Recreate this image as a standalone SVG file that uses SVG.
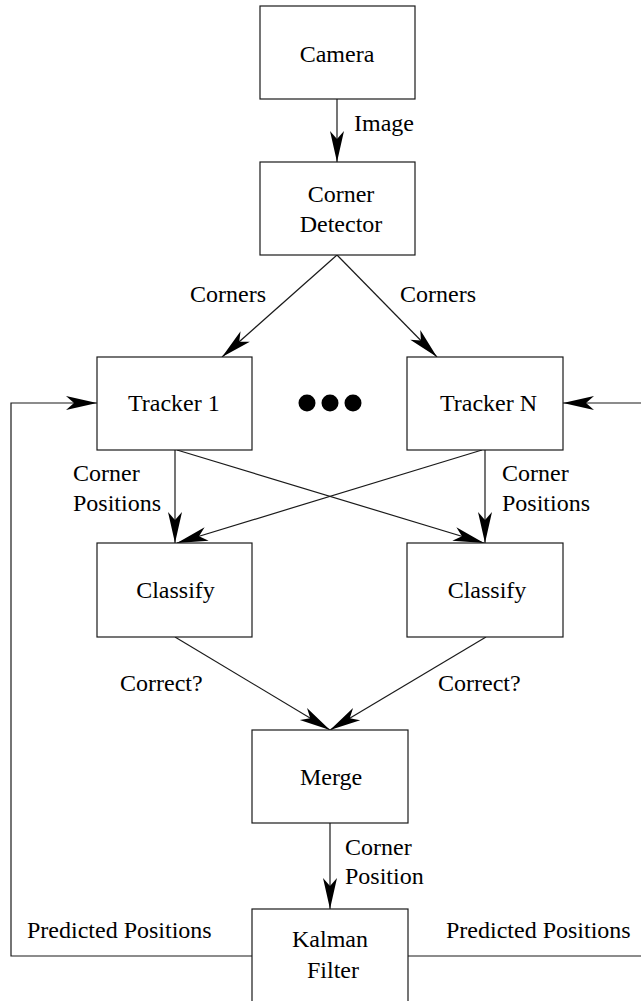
<svg xmlns="http://www.w3.org/2000/svg" width="641" height="1001" viewBox="0 0 641 1001">
<style>
.box{fill:#fff;stroke:#1a1a1a;stroke-width:1.2}
.t{font-family:'Liberation Serif','Times New Roman',Times,serif;font-size:24px;fill:#000}
.c{text-anchor:middle}
.ln{fill:none;stroke:#1a1a1a;stroke-width:1.2}
.ar{marker-end:url(#ah)}
</style>
<defs>
<marker id="ah" markerUnits="userSpaceOnUse" markerWidth="34" markerHeight="18" viewBox="-32 -9 34 18" refX="0" refY="0" orient="auto">
<path d="M0,0 L-31,-7 L-23,0 L-31,7 Z" fill="#000"/>
</marker>
</defs>
<rect width="641" height="1001" fill="#fff"/>
<g id="connectors">
<line class="ln ar" x1="337" y1="99" x2="337" y2="162"/>
<line class="ln ar" x1="337" y1="255" x2="222" y2="357"/>
<line class="ln ar" x1="337" y1="255" x2="437" y2="357"/>
<line class="ln ar" x1="175" y1="450" x2="175" y2="543"/>
<line class="ln ar" x1="485" y1="450" x2="485" y2="543"/>
<line class="ln ar" x1="177" y1="450" x2="484" y2="543"/>
<line class="ln ar" x1="482" y1="450" x2="177" y2="543"/>
<line class="ln ar" x1="175" y1="637" x2="330" y2="730"/>
<line class="ln ar" x1="486" y1="637" x2="330" y2="730"/>
<line class="ln ar" x1="330" y1="823" x2="330" y2="909"/>
<polyline class="ln ar" points="252,956 11,956 11,403 97,403"/>
<line class="ln" x1="408" y1="956" x2="641" y2="956"/>
<line class="ln ar" x1="641" y1="403" x2="563" y2="403"/>
</g>
<g id="labels" font-family="Liberation Serif, serif">
<text class="t" x="354" y="131">Image</text>
<text class="t" x="190" y="302">Corners</text>
<text class="t" x="400" y="302">Corners</text>
<text class="t" x="73" y="481">Corner</text>
<text class="t" x="73" y="511">Positions</text>
<text class="t" x="502" y="481">Corner</text>
<text class="t" x="502" y="511">Positions</text>
<text class="t" x="120" y="691">Correct?</text>
<text class="t" x="438" y="691">Correct?</text>
<text class="t" x="345" y="855">Corner</text>
<text class="t" x="345" y="884">Position</text>
<text class="t" x="27" y="938">Predicted Positions</text>
<text class="t" x="446" y="938">Predicted Positions</text>
</g>
<g id="camera">
<rect class="box" x="260" y="6" width="155" height="93"/>
<text class="t c" x="337" y="62">Camera</text>
</g>
<g id="corner-detector">
<rect class="box" x="260" y="162" width="155" height="93"/>
<text class="t c" x="341" y="202">Corner</text>
<text class="t c" x="341" y="232">Detector</text>
</g>
<g id="tracker-1">
<rect class="box" x="97" y="357" width="155" height="93"/>
<text class="t" x="128" y="411">Tracker 1</text>
</g>
<g id="ellipsis">
<circle cx="307" cy="403" r="8.5" fill="#000"/>
<circle cx="330" cy="403" r="8.5" fill="#000"/>
<circle cx="353" cy="403" r="8.5" fill="#000"/>
</g>
<g id="tracker-n">
<rect class="box" x="407" y="357" width="156" height="93"/>
<text class="t" x="440" y="411">Tracker N</text>
</g>
<g id="classify-1">
<rect class="box" x="97" y="543" width="155" height="94"/>
<text class="t c" x="175.5" y="598">Classify</text>
</g>
<g id="classify-n">
<rect class="box" x="407" y="543" width="156" height="94"/>
<text class="t c" x="487" y="598">Classify</text>
</g>
<g id="merge">
<rect class="box" x="252" y="730" width="156" height="93"/>
<text class="t c" x="331" y="785">Merge</text>
</g>
<g id="kalman-filter">
<rect class="box" x="252" y="909" width="156" height="110"/>
<text class="t c" x="330" y="947">Kalman</text>
<text class="t c" x="333" y="978">Filter</text>
</g>
</svg>
